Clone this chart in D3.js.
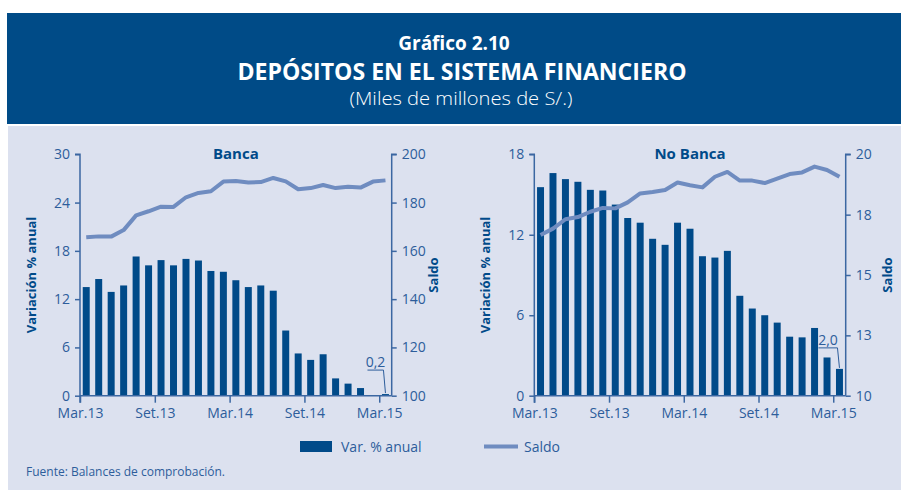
<!DOCTYPE html>
<html>
<head>
<meta charset="utf-8">
<script src="https://cdn.jsdelivr.net/npm/d3@7"></script>
<style>
  body { margin: 0; background: #fff; }
  svg { display: block; font-family: "Open Sans", sans-serif; }
</style>
</head>
<body>
<div id="chart"></div>
<script>
// months Mar.13 .. Mar.15
const months = ["Mar.13","Abr.13","May.13","Jun.13","Jul.13","Ago.13","Set.13","Oct.13","Nov.13","Dic.13",
  "Ene.14","Feb.14","Mar.14","Abr.14","May.14","Jun.14","Jul.14","Ago.14","Set.14","Oct.14","Nov.14","Dic.14",
  "Ene.15","Feb.15","Mar.15"];
const tickIdx = [0, 6, 12, 18, 24];

// Banca
const bancaVar = [13.5,14.5,12.9,13.7,17.3,16.2,16.85,16.2,17.0,16.8,15.5,15.4,14.35,13.5,13.7,13.05,
  8.1,5.25,4.45,5.15,2.15,1.5,0.95,0.05,0.2];
const bancaSaldo = [165.6,166.0,165.9,168.6,174.7,176.4,178.3,178.2,182.2,184.0,184.7,188.7,188.9,188.3,
  188.5,190.2,188.8,185.5,186.0,187.3,186.0,186.6,186.2,188.7,189.2];

// No Banca
const noBancaVar = [15.55,16.6,16.15,15.95,15.35,15.3,14.25,13.25,12.9,11.7,11.25,12.9,12.45,10.4,10.3,
  10.8,7.45,6.5,6.0,5.45,4.4,4.35,5.05,2.85,2.0];
const noBancaSaldo = [16.66,16.92,17.31,17.40,17.62,17.78,17.76,18.01,18.38,18.44,18.52,18.83,18.72,18.63,
  19.07,19.27,18.91,18.91,18.81,18.99,19.18,19.25,19.49,19.35,19.07];

const bancaLeftTicks = [0, 6, 12, 18, 24, 30];
const bancaRightTicks = [100, 120, 140, 160, 180, 200];
const noBancaLeftTicks = [0, 6, 12, 18];
const noBancaRightTicks = [10, 12.5, 15, 17.5, 20];
const noBancaRightLabels = ["10", "13", "15", "18", "20"];

const BAR = "#004a89", LINE = "#6f8cc0", TXT = "#2d5d9b", AXIS = "#3b67a2";

const W = 901, H = 490;
let svg = d3.select("#chart").append("svg").attr("width", W).attr("height", H);

// header
svg.append("rect").attr("x", 7).attr("y", 13).attr("width", W - 7).attr("height", 111).attr("fill", "#004b87");
svg.append("rect").attr("x", 8).attr("y", 126).attr("width", W - 8).attr("height", H - 126).attr("fill", "#dce1ef");

svg.append("text").attr("x", 454).attr("y", 50).attr("text-anchor", "middle")
  .attr("fill", "#fff").style("font-size", "19px").style("font-weight", 700).text("Gráfico 2.10");
svg.append("text").attr("x", 462).attr("y", 80).attr("text-anchor", "middle")
  .attr("fill", "#fff").style("font-size", "23px").style("font-weight", 700)
  .attr("textLength", 449).attr("lengthAdjust", "spacingAndGlyphs")
  .text("DEPÓSITOS EN EL SISTEMA FINANCIERO");
svg.append("text").attr("x", 461).attr("y", 105).attr("text-anchor", "middle")
  .attr("fill", "#fff").style("font-size", "18px").style("font-weight", 300)
  .attr("textLength", 223).attr("lengthAdjust", "spacingAndGlyphs")
  .text("(Miles de millones de S/.)");

function panel(opts) {
  let g = svg.append("g");
  let x = d3.scaleBand().domain(months).range([opts.x0, opts.x1]).paddingInner(0.44).paddingOuter(0.22);
  let xt = d3.scaleLinear().domain([0, months.length]).range([opts.x0, opts.x1]);
  let yL = d3.scaleLinear().domain(opts.leftDomain).range([395.7, 154.3]);
  let yR = d3.scaleLinear().domain(opts.rightDomain).range([395.7, 154.3]);

  // bars
  g.selectAll("rect.bar").data(opts.bars).enter().append("rect")
    .attr("class", "bar")
    .attr("x", (d, i) => x(months[i]))
    .attr("width", x.bandwidth())
    .attr("y", d => yL(d))
    .attr("height", d => yL(0) - yL(d))
    .attr("fill", BAR);

  // line
  let line = d3.line()
    .x((d, i) => x(months[i]) + x.bandwidth() / 2)
    .y(d => yR(d));
  g.append("path").datum(opts.line)
    .attr("d", line)
    .attr("fill", "none")
    .attr("stroke", LINE)
    .attr("stroke-width", 4)
    .attr("stroke-linejoin", "round");

  // axes
  let axL = g.append("g").attr("transform", `translate(${opts.x0},0)`)
    .call(d3.axisLeft(yL).tickValues(opts.leftTicks).tickSize(5).tickPadding(5));
  let axR = g.append("g").attr("transform", `translate(${opts.x1},0)`)
    .call(d3.axisRight(yR).tickValues(opts.rightTicks).tickSize(5).tickPadding(5)
      .tickFormat((d, i) => opts.rightLabels ? opts.rightLabels[i] : d));
  let axB = g.append("g").attr("transform", `translate(0,${yL(0)})`)
    .call(d3.axisBottom(xt).tickValues(tickIdx).tickSize(7).tickPadding(5)
      .tickFormat(i => months[i]));
  [axL, axR, axB].forEach(a => {
    a.select(".domain").attr("stroke", AXIS).attr("stroke-width", 1.5);
    a.selectAll(".tick line").attr("stroke", AXIS).attr("stroke-width", 1.5);
    a.selectAll(".tick text").attr("fill", TXT).style("font-size", "14px").style("font-family", "Open Sans");
  });
  axL.select(".domain").attr("d", `M-5,${yL.range()[1]}H0V${yL(0) + 7}`);
  axR.select(".domain").attr("d", `M5,${yR.range()[1]}H0V${yR.range()[0]}`);
  axB.select(".domain").attr("d", `M${opts.x0},0H${opts.x1}`);

  // titles
  g.append("text").attr("x", (opts.x0 + opts.x1) / 2).attr("y", 159)
    .attr("text-anchor", "middle").attr("fill", BAR)
    .style("font-size", "15px").style("font-weight", 700).text(opts.title);
  g.append("text").attr("transform", `translate(${opts.x0 - 44},275) rotate(-90)`)
    .attr("text-anchor", "middle").attr("fill", BAR)
    .style("font-size", "13px").style("font-weight", 700).text("Variación % anual");
  g.append("text").attr("transform", `translate(${opts.x1 + 46},275) rotate(-90)`)
    .attr("text-anchor", "middle").attr("fill", BAR)
    .style("font-size", "13px").style("font-weight", 700).text("Saldo");

  // annotation on last bar
  let last = opts.bars.length - 1;
  let bx = x(months[last]) + x.bandwidth() / 2;
  let by = yL(opts.bars[last]);
  let ly = by - opts.leadUp;
  g.append("path")
    .attr("d", `M${bx},${by - 1}L${bx - 2},${ly}H${bx - 2 - opts.leadLen}`)
    .attr("fill", "none").attr("stroke", TXT).attr("stroke-width", 1);
  g.append("text").attr("x", bx - 2 - opts.leadLen / 2).attr("y", ly - 3)
    .attr("text-anchor", "middle").attr("fill", TXT).style("font-size", "14px")
    .text(opts.label);
}

panel({
  x0: 80, x1: 391.7, title: "Banca",
  leftDomain: [0, 30], rightDomain: [100, 200],
  leftTicks: bancaLeftTicks, rightTicks: bancaRightTicks,
  bars: bancaVar, line: bancaSaldo,
  label: "0,2", leadUp: 24, leadLen: 16
});
panel({
  x0: 534.3, x1: 845.7, title: "No Banca",
  leftDomain: [0, 18], rightDomain: [10, 20],
  leftTicks: noBancaLeftTicks, rightTicks: noBancaRightTicks, rightLabels: noBancaRightLabels,
  bars: noBancaVar, line: noBancaSaldo,
  label: "2,0", leadUp: 21, leadLen: 19
});

// legend
let lg = svg.append("g");
lg.append("rect").attr("x", 300).attr("y", 441).attr("width", 32).attr("height", 11).attr("fill", BAR);
lg.append("text").attr("x", 341).attr("y", 452).attr("fill", TXT).style("font-size", "14px").text("Var. % anual");
lg.append("line").attr("x1", 484).attr("x2", 518).attr("y1", 446.5).attr("y2", 446.5)
  .attr("stroke", LINE).attr("stroke-width", 4);
lg.append("text").attr("x", 524).attr("y", 452).attr("fill", TXT).style("font-size", "14px").text("Saldo");

svg.append("text").attr("x", 26).attr("y", 476).attr("fill", TXT).style("font-size", "12px")
  .text("Fuente: Balances de comprobación.");
</script>
</body>
</html>
